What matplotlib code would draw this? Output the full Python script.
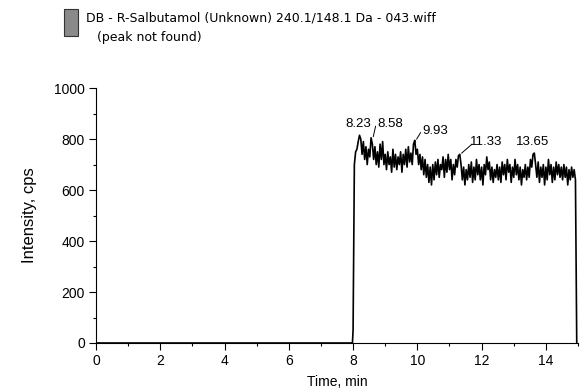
import numpy as np
import matplotlib
matplotlib.use("Agg")
import matplotlib.pyplot as plt
from matplotlib.patches import Rectangle

plt.rcParams['font.family'] = ['Liberation Sans', 'DejaVu Sans']

# baseline before the peak region
base_t = [0.0, 7.98]
base_y = [0, 0]

# signal from 8.00 min, one reading every 0.04 min
sig_y = [50, 700, 750, 760, 790, 815, 800, 740, 790, 720,
         770, 700, 760, 730, 805, 780, 720, 770, 700, 750,
         690, 780, 720, 790, 700, 740, 680, 750, 700, 730,
         670, 760, 690, 740, 680, 730, 700, 750, 670, 740,
         700, 760, 690, 770, 710, 745, 700, 780, 795, 740,
         760, 700, 740, 680, 730, 660, 720, 650, 700, 630,
         690, 620, 700, 640, 710, 660, 720, 650, 700, 680,
         730, 650, 720, 670, 740, 680, 720, 640, 700, 660,
         720, 690, 735, 740, 700, 640, 690, 620, 680, 640,
         700, 650, 710, 630, 690, 640, 720, 660, 700, 640,
         690, 620, 700, 660, 730, 680, 710, 640, 690, 630,
         680, 650, 700, 640, 690, 630, 710, 660, 700, 640,
         720, 670, 700, 630, 690, 650, 720, 660, 700, 640,
         690, 620, 680, 650, 700, 640, 690, 650, 720, 690,
         740, 745, 700, 650, 710, 630, 690, 650, 700, 620,
         690, 640, 720, 660, 700, 630, 690, 640, 710, 660,
         700, 650, 690, 640, 700, 650, 690, 620, 680, 640,
         690, 650, 680, 640, 0]
sig_t = 8.0 + 0.04 * np.arange(len(sig_y))

# peak labels: (retention time, peak height, text x, text y)
peak_rt = [8.23, 8.58, 9.93, 11.33, 13.65]
peak_h = [815, 805, 795, 740, 745]
label_x = [8.15, 9.15, 10.55, 12.15, 13.58]
label_y = [835, 835, 810, 765, 765]
leader = [False, True, True, True, False]

fig = plt.figure(figsize=(5.8, 3.88), dpi=100)
ax = fig.add_axes([0.1655, 0.116, 0.8311, 0.657])

t = np.concatenate([base_t, sig_t])
y = np.concatenate([base_y, sig_y])
ax.plot(t, y, color='black', lw=1.2)

for rt, h, lx, ly, ld in zip(peak_rt, peak_h, label_x, label_y, leader):
    ax.text(lx, ly, f"{rt:.2f}", ha='center', va='bottom', fontsize=9.5)
    if ld:
        ax.plot([rt + 0.05, lx - 0.45], [h + 5, ly + 15], color='black', lw=0.7)

ax.set_xlim(0, 15)
ax.set_ylim(0, 1000)
ax.set_xticks(range(0, 15, 2))
ax.set_xticks(range(0, 16, 1), minor=True)
ax.set_yticks(range(0, 1001, 200))
ax.set_yticks(range(0, 1001, 100), minor=True)
ax.tick_params(which='major', length=5, width=0.8, labelsize=10, pad=3)
ax.tick_params(which='minor', length=2.5, width=0.8)
for s in ['top', 'right']:
    ax.spines[s].set_visible(False)

ax.set_xlabel("Time, min", fontsize=10, labelpad=5)
ax.set_ylabel("Intensity, cps", fontsize=12, labelpad=12)

# header with the trace icon
fig.patches.append(Rectangle((64 / 580, 1 - 36 / 388), 14 / 580, 27 / 388,
                             transform=fig.transFigure, facecolor='#8a8a8a',
                             edgecolor='#333333', lw=0.8))
fig.text(86 / 580, 1 - 18 / 388, "DB - R-Salbutamol (Unknown) 240.1/148.1 Da - 043.wiff",
         fontsize=9, va='center', ha='left', family=['DejaVu Sans'])
fig.text(97 / 580, 1 - 37 / 388, "(peak not found)", fontsize=9, va='center', ha='left',
         family=['DejaVu Sans'])

fig.savefig("out.png", dpi=100)
